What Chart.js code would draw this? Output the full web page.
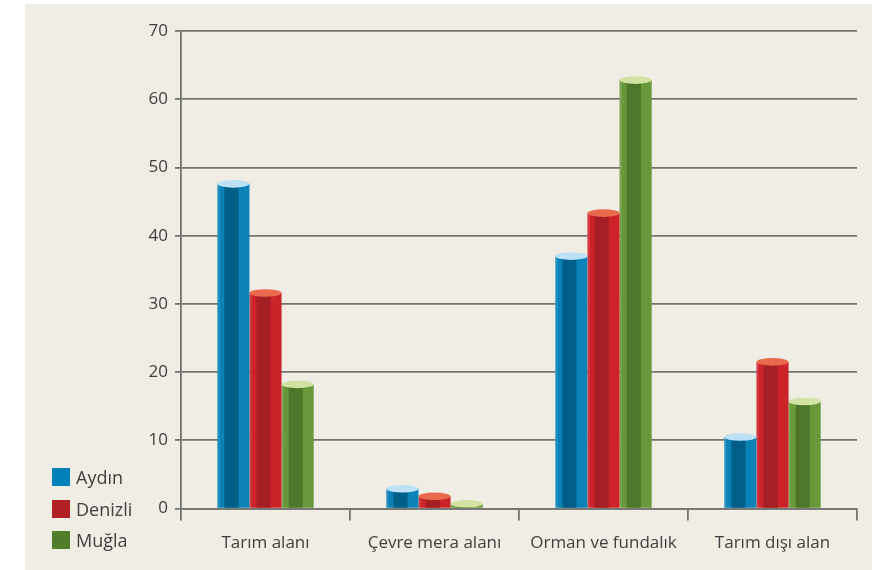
<!DOCTYPE html>
<html>
<head>
<meta charset="utf-8">
<script src="https://cdn.jsdelivr.net/npm/chart.js@4"></script>
<style>
  html, body { margin: 0; padding: 0; background: #fff; }
  #panel { position: absolute; left: 25px; top: 4px; width: 847px; height: 566px; background: #f0ede5; }
  #chart { position: absolute; left: 0; top: 0; }
  .legend { position: absolute; left: 27px; top: 464px; font-family: "Open Sans", sans-serif; font-size: 18px; color: #404040; }
  .legend div { height: 31.5px; line-height: 18px; }
  .legend span { display: inline-block; width: 18px; height: 18px; vertical-align: top; margin-right: 6px; }
</style>
</head>
<body>
<div id="panel">
  <canvas id="chart" width="847" height="566"></canvas>
  <div class="legend" id="legend"></div>
</div>
<script>
const categories = ['Tarım alanı', 'Çevre mera alanı', 'Orman ve fundalık', 'Tarım dışı alan'];
const provinces = ['Aydın', 'Denizli', 'Muğla'];
const aydin = [47.6, 2.9, 37.0, 10.5];
const denizli = [31.6, 1.8, 43.3, 21.5];
const mugla = [18.2, 0.7, 62.8, 15.7];
const yTicks = [0, 10, 20, 30, 40, 50, 60, 70];

// side, centre, top cap
const shades = [
  { side: '#0a82b6', dark: '#005f88', top: '#bde2f7', key: '#0080b8' },
  { side: '#cc2229', dark: '#a61f24', top: '#ea6a50', key: '#b02025' },
  { side: '#67983a', dark: '#4e772b', top: '#d1e2a3', key: '#4f7d2b' }
];

const legendEl = document.getElementById('legend');
provinces.forEach((p, i) => {
  const d = document.createElement('div');
  d.innerHTML = '<span style="background:' + shades[i].key + '"></span>' + p;
  legendEl.appendChild(d);
});

// cylinder look: dark middle band + elliptical cap
const cylinders = {
  id: 'cylinders',
  afterDatasetsDraw(chart) {
    const ctx = chart.ctx;
    chart.data.datasets.forEach((ds, i) => {
      const meta = chart.getDatasetMeta(i);
      const s = shades[i];
      meta.data.forEach(bar => {
        const w = bar.width, left = bar.x - w / 2;
        ctx.save();
        ctx.fillStyle = 'rgba(255,255,255,0.12)';
        ctx.fillRect(left, bar.y, w * 0.07, bar.base - bar.y);
        ctx.fillStyle = s.dark;
        ctx.fillRect(left + w * 0.22, bar.y, w * 0.44, bar.base - bar.y);
        ctx.beginPath();
        ctx.ellipse(bar.x, bar.y, w / 2, 3.8, 0, 0, Math.PI * 2);
        ctx.fillStyle = s.top;
        ctx.fill();
        ctx.restore();
      });
    });
  }
};

const font = { family: '"Open Sans", sans-serif', size: 17 };

new Chart(document.getElementById('chart'), {
  type: 'bar',
  data: {
    labels: categories,
    datasets: [aydin, denizli, mugla].map((vals, i) => ({
      label: provinces[i],
      data: vals,
      backgroundColor: shades[i].side,
      borderWidth: 0,
      categoryPercentage: 0.57,
      barPercentage: 1.0
    }))
  },
  options: {
    responsive: false,
    animation: false,
    layout: { padding: { top: 27, right: 15, left: 0, bottom: 5 } },
    plugins: { legend: { display: false }, tooltip: { enabled: false } },
    scales: {
      y: {
        min: 0,
        max: 70,
        afterBuildTicks: axis => { axis.ticks = yTicks.map(v => ({ value: v })); },
        afterFit: axis => { axis.width = 156; },
        ticks: { color: '#404040', font: font, padding: 7 },
        grid: { color: '#747472', lineWidth: 1.8, tickLength: 6 },
        border: { color: '#747472', width: 1.8 }
      },
      x: {
        ticks: { color: '#404040', font: font, padding: 12 },
        grid: { offset: true, drawOnChartArea: false, color: '#747472', lineWidth: 1.8, tickLength: 12 },
        border: { color: '#747472', width: 1.8 }
      }
    }
  },
  plugins: [cylinders]
});
</script>
</body>
</html>
